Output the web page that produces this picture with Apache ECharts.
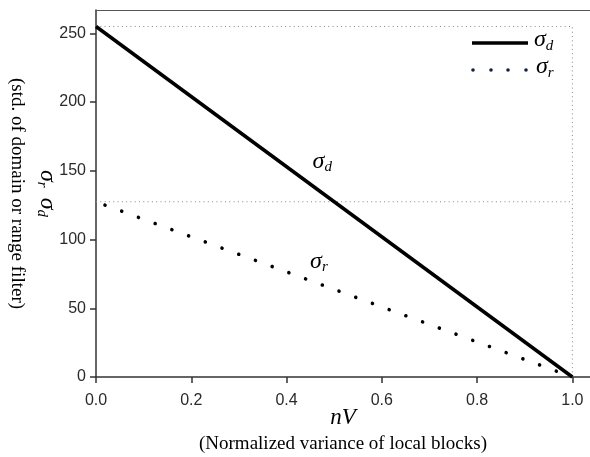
<!DOCTYPE html>
<html><head><meta charset="utf-8">
<script src="https://cdn.jsdelivr.net/npm/echarts@6/dist/echarts.min.js"></script>
<style>html,body{margin:0;padding:0;background:#fff}#c{width:590px;height:457px}</style>
</head><body><div id="c"></div>
<script>
const xTicks = [0, 0.2, 0.4, 0.6, 0.8, 1.0];
const yTicks = [0, 50, 100, 150, 200, 250];
const xRange = [0, 1.037];
const yRange = [0, 267];
const sigmaD = [[0, 255], [1, 0]];
const sigmaR = [[0, 127.5], [1, 0]];
const guideTop = [[0, 255], [1, 255], [1, 0]];
const guideMid = [[0, 127.5], [1, 127.5]];
const labelD = [0.475, 157];
const labelR = [0.468, 84];

const serif = '"Liberation Serif", "Times New Roman", serif';
const sans = '"Liberation Sans", Arial, sans-serif';
const richSigma = {
  s: {fontFamily: serif, fontStyle: 'italic', fontSize: 24, color: '#000'},
  sub: {fontFamily: serif, fontStyle: 'italic', fontSize: 15, color: '#000', padding: [12, 0, 0, 0]}
};

const chart = echarts.init(document.getElementById('c'));
chart.setOption({
  animation: false,
  backgroundColor: '#fff',
  grid: {left: 96, right: 0, top: 10, bottom: 80, containLabel: false, outerBoundsMode: 'none'},
  xAxis: [{
    type: 'value', min: xRange[0], max: xRange[1],
    axisLine: {show: true, lineStyle: {color: '#333', width: 1.5}},
    splitLine: {show: false},
    axisTick: {show: true, length: 6, lineStyle: {color: '#333', width: 1.5}, customValues: xTicks},
    axisLabel: {customValues: xTicks, formatter: v => v.toFixed(1), fontFamily: sans, fontSize: 16, color: '#2a2a2a', margin: 16},
    name: '{v|nV}\n{t|(Normalized variance of local blocks)}',
    nameLocation: 'middle', nameGap: 28, nameMoveOverlap: false,
    nameTextStyle: {rich: {
      v: {fontFamily: serif, fontStyle: 'italic', fontSize: 23, color: '#000', lineHeight: 26},
      t: {fontFamily: serif, fontSize: 19, color: '#000', lineHeight: 27}
    }}
  }, {
    type: 'value', min: xRange[0], max: xRange[1], position: 'top',
    axisLine: {show: true, onZero: false, lineStyle: {color: '#555', width: 1}},
    axisTick: {show: false}, axisLabel: {show: false}, splitLine: {show: false}
  }],
  yAxis: {
    type: 'value', min: yRange[0], max: yRange[1],
    axisLine: {show: true, lineStyle: {color: '#333', width: 1.5}},
    splitLine: {show: false},
    axisTick: {show: true, length: 6, lineStyle: {color: '#333', width: 1.5}, customValues: yTicks},
    axisLabel: {customValues: yTicks, fontFamily: sans, fontSize: 16, color: '#2a2a2a', margin: 10},
    name: '{s|σ}{sub|r}   {s|σ}{sub|d}\n{t|(std. of domain or range filter)}',
    nameLocation: 'middle', nameRotate: -90, nameGap: 35, nameMoveOverlap: false,
    nameTextStyle: {rich: Object.assign({}, richSigma, {
      t: {fontFamily: serif, fontSize: 19, color: '#000', lineHeight: 34}
    })}
  },
  graphic: [
    {type: 'line', shape: {x1: 472, y1: 43, x2: 528, y2: 43}, style: {stroke: '#000', lineWidth: 3.5}},
    {type: 'circle', shape: {cx: 473, cy: 70, r: 1.8}, style: {fill: '#14204a'}},
    {type: 'circle', shape: {cx: 491, cy: 70, r: 1.8}, style: {fill: '#14204a'}},
    {type: 'circle', shape: {cx: 508, cy: 70, r: 1.8}, style: {fill: '#14204a'}},
    {type: 'circle', shape: {cx: 526, cy: 70, r: 1.8}, style: {fill: '#14204a'}},
    {type: 'text', left: 534, top: 28, style: {text: '{s|σ}{sub|d}', rich: richSigma}},
    {type: 'text', left: 536, top: 55, style: {text: '{s|σ}{sub|r}', rich: richSigma}}
  ],
  series: [
    {type: 'line', data: guideTop, symbol: 'none', silent: true,
      lineStyle: {color: '#888', width: 1, type: [1, 3.3]}},
    {type: 'line', data: guideMid, symbol: 'none', silent: true,
      lineStyle: {color: '#888', width: 1, type: [1, 3.3]}},
    {type: 'line', name: 'σd', data: sigmaD, symbol: 'none',
      lineStyle: {color: '#000', width: 3.5},
      markPoint: {symbolSize: 0, data: [{coord: labelD, label: {show: true, formatter: '{s|σ}{sub|d}', rich: richSigma}}]}},
    {type: 'line', name: 'σr', data: sigmaR, symbol: 'none',
      lineStyle: {color: '#000', width: 3.6, type: [0.01, 17.8], dashOffset: 8.2, cap: 'round'},
      markPoint: {symbolSize: 0, data: [{coord: labelR, label: {show: true, formatter: '{s|σ}{sub|r}', rich: richSigma}}]}}
  ]
});
</script></body></html>
